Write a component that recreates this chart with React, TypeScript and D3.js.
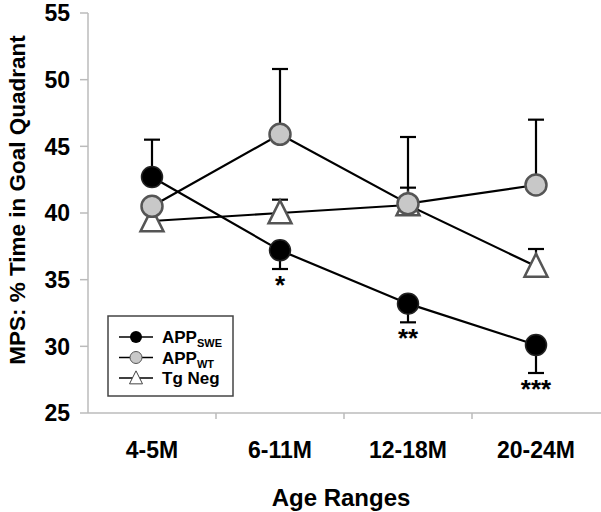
import * as d3 from 'd3';
import React from 'react';

const ageRanges = ['4-5M', '6-11M', '12-18M', '20-24M'];
const yTicks = [25, 30, 35, 40, 45, 50, 55];

const appSwe = [42.7, 37.2, 33.2, 30.1];
const appSweErr = [2.8, -1.4, -1.4, -2.1];
const appWt = [40.5, 45.9, 40.7, 42.1];
const appWtErr = [0, 4.9, 5.0, 4.9];
const tgNeg = [39.4, 40.0, 40.6, 36.0];
const tgNegErr = [0, 1.0, 1.3, 1.3];
const stars = ['', '*', '**', '***'];

const W = 601;
const H = 512;
const margin = { top: 13, right: 1, bottom: 99, left: 88 };
const font = '"Liberation Sans", Arial, sans-serif';

const App: React.FC = () => {
  const x = d3.scaleBand().domain(ageRanges).range([margin.left, W - margin.right]);
  const y = d3.scaleLinear().domain([25, 55]).range([H - margin.bottom, margin.top]);
  const cx = (i: number) => (x(ageRanges[i]) ?? 0) + x.bandwidth() / 2;
  const line = d3.line<number>().x((_, i) => cx(i)).y(d => y(d));

  const errBar = (vals: number[], errs: number[], key: string) =>
    vals.map((v, i) => {
      if (!errs[i]) return null;
      const end = y(v + errs[i]);
      return (
        <g key={key + i} stroke="#000" strokeWidth={2.2}>
          <line x1={cx(i)} x2={cx(i)} y1={y(v)} y2={end} />
          <line x1={cx(i) - 8} x2={cx(i) + 8} y1={end} y2={end} />
        </g>
      );
    });

  const tri = (px: number, py: number, s = 23) =>
    `M${px},${py - s * 0.55}L${px + s / 2},${py + s * 0.45}L${px - s / 2},${py + s * 0.45}Z`;

  return (
    <svg width={W} height={H} style={{ position: 'absolute', left: 0, top: 0, fontFamily: font }}>
      <rect width={W} height={H} fill="#fff" />
      {/* axes */}
      <line x1={margin.left} x2={margin.left} y1={margin.top} y2={H - margin.bottom} stroke="#bbb" strokeWidth={1.5} />
      <line x1={margin.left} x2={W} y1={H - margin.bottom} y2={H - margin.bottom} stroke="#bbb" strokeWidth={1.5} />
      {yTicks.map(t => (
        <g key={t}>
          <line x1={margin.left - 8} x2={margin.left} y1={y(t)} y2={y(t)} stroke="#bbb" strokeWidth={1.5} />
          <text x={70} y={y(t)} dy="0.36em" textAnchor="end" fontSize={23} fontWeight="bold">{t}</text>
        </g>
      ))}
      {ageRanges.slice(1).map(a => (
        <line key={a} x1={x(a)} x2={x(a)} y1={H - margin.bottom} y2={H - margin.bottom + 6} stroke="#bbb" strokeWidth={1.5} />
      ))}
      {ageRanges.map((a, i) => (
        <text key={a} x={cx(i)} y={458} textAnchor="middle" fontSize={23} fontWeight="bold">{a}</text>
      ))}
      <text x={341} y={506} textAnchor="middle" fontSize={24} fontWeight="bold">Age Ranges</text>
      <text transform="translate(25,200) rotate(-90)" textAnchor="middle" fontSize={22.5} fontWeight="bold">
        MPS: % Time in Goal Quadrant
      </text>

      {/* error bars */}
      {errBar(appSwe, appSweErr, 'swe')}
      {errBar(appWt, appWtErr, 'wt')}
      {errBar(tgNeg, tgNegErr, 'tg')}

      {/* lines */}
      <path d={line(tgNeg) ?? ''} fill="none" stroke="#000" strokeWidth={2.2} />
      <path d={line(appSwe) ?? ''} fill="none" stroke="#000" strokeWidth={2.2} />
      <path d={line(appWt) ?? ''} fill="none" stroke="#000" strokeWidth={2.2} />

      {/* markers */}
      {tgNeg.map((v, i) => (
        <path key={'t' + i} d={tri(cx(i), y(v))} fill="#fff" stroke="#555" strokeWidth={2.5} />
      ))}
      {appSwe.map((v, i) => (
        <circle key={'s' + i} cx={cx(i)} cy={y(v)} r={10.5} fill="#000" stroke="#222" strokeWidth={1.5} />
      ))}
      {appWt.map((v, i) => (
        <circle key={'w' + i} cx={cx(i)} cy={y(v)} r={10.5} fill="#c8c8c8" stroke="#555" strokeWidth={2.5} />
      ))}

      {/* significance */}
      {stars.map((s, i) =>
        s ? (
          <text key={'st' + i} x={cx(i)} y={y(appSwe[i] + appSweErr[i]) + 25} textAnchor="middle" fontSize={26} fontWeight="bold">{s}</text>
        ) : null
      )}

      {/* legend */}
      <g>
        <rect x={108} y={316} width={125} height={80} fill="#fff" stroke="#444" strokeWidth={1.5} />
        {[0, 1, 2].map(k => {
          const ly = 337 + k * 20.5;
          return (
            <g key={'l' + k}>
              <line x1={119} x2={153} y1={ly} y2={ly} stroke="#000" strokeWidth={1.5} />
              {k === 0 && <circle cx={136} cy={ly} r={6} fill="#000" />}
              {k === 1 && <circle cx={136} cy={ly} r={6} fill="#c8c8c8" stroke="#555" strokeWidth={1} />}
              {k === 2 && <path d={tri(136, ly, 13)} fill="#fff" stroke="#444" strokeWidth={1} />}
            </g>
          );
        })}
        <text x={162} y={343} fontSize={17} fontWeight="bold">APP<tspan fontSize={11} dy={4}>SWE</tspan></text>
        <text x={162} y={363.5} fontSize={17} fontWeight="bold">APP<tspan fontSize={11} dy={4}>WT</tspan></text>
        <text x={162} y={384} fontSize={17} fontWeight="bold">Tg Neg</text>
      </g>
    </svg>
  );
};

export default App;
